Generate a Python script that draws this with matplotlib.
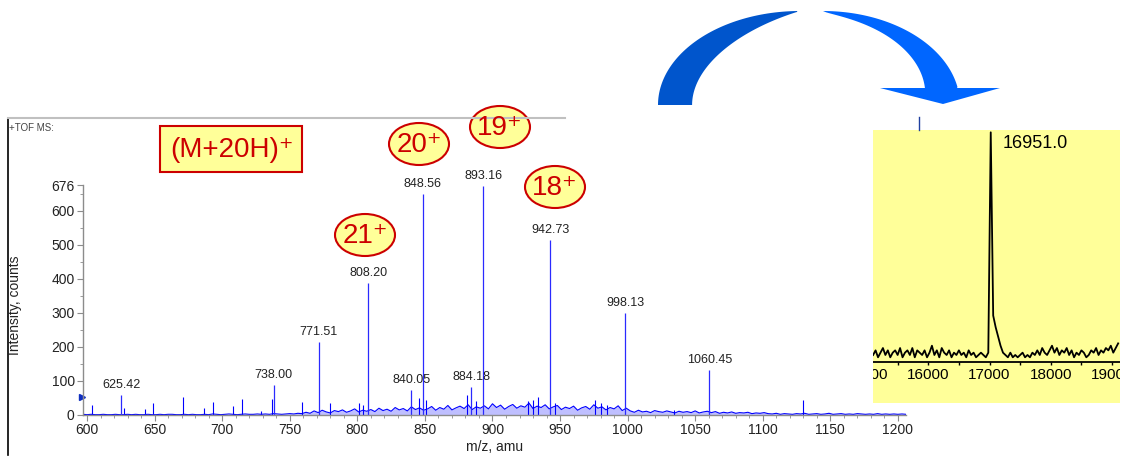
import numpy as np
import matplotlib
matplotlib.use("Agg")
import matplotlib.pyplot as plt
from matplotlib.patches import Ellipse, Rectangle, Polygon
from matplotlib.lines import Line2D
from matplotlib.transforms import Affine2D

plt.rcParams['font.family'] = ['Liberation Sans', 'DejaVu Sans']

# ---- main spectrum (m/z 597..1206) ----
noise_mz = np.arange(597, 1207, 3)
noise = [2, 1, 2, 1, 1, 2, 1, 1, 2, 1, 1, 2, 1, 2, 1, 1, 2, 1, 1, 2,
         1, 2, 2, 1, 1, 2, 1, 2, 1, 1, 2, 1, 3, 2, 1, 2, 3, 2, 1, 2,
         3, 2, 2, 3, 2, 3, 2, 4, 3, 2, 3, 4, 3, 5, 4,
         8, 5, 12, 7, 14, 9, 6, 13, 10, 15, 8, 12, 18, 9, 14, 11, 16, 10, 20, 13,
         17, 11, 22, 15, 19, 12, 24, 16, 21, 14,
         18, 25, 14, 22, 17, 28, 15, 21, 26, 19, 30, 16, 24, 20, 27, 18, 33, 22, 29, 17,
         25, 31, 20, 27, 23, 35, 19, 26, 22, 30, 18, 24, 28, 16, 23, 19, 26, 14, 21, 25,
         17, 30, 20, 24, 15, 22, 18, 27, 13, 20,
         12, 8, 14, 9, 11, 7, 13, 10, 8, 12, 9, 6, 11, 8, 10, 7, 12, 6, 9, 11,
         7, 10, 5, 8, 6, 9, 5, 7, 6, 8, 4, 6, 5, 7,
         4, 3, 5, 2, 4, 3, 2, 4, 3, 5, 2, 3, 4, 2, 3, 5, 2, 3, 4, 2,
         3, 2, 4, 3, 2, 3, 2, 4, 2, 3, 2, 3, 2, 3, 2]

peak_mz = [625.42, 738.00, 771.51, 808.20, 840.05, 848.56, 884.18, 893.16, 942.73, 998.13, 1060.45]
peak_h = [59, 88, 215, 388, 74, 650, 82, 673, 515, 300, 132]
peak_lbl = ["625.42", "738.00", "771.51", "808.20", "840.05", "848.56", "884.18",
            "893.16", "942.73", "998.13", "1060.45"]

minor_mz = [604, 627, 643, 649, 671, 686.5, 693, 708, 714.6, 729, 737, 759, 780, 801, 804,
            846, 851, 881, 888, 926, 930, 934, 946, 976, 980, 985, 1034, 1130]
minor_h = [29, 20, 18, 35, 52, 20, 38, 27, 47, 12, 47, 38, 35, 35, 30,
           50, 45, 60, 40, 40, 45, 53, 35, 44, 35, 30, 15, 44]

yticks = [0, 100, 200, 300, 400, 500, 600, 676]
xticks = [600, 650, 700, 750, 800, 850, 900, 950, 1000, 1050, 1100, 1150, 1200]

# ---- deconvoluted inset ----
ins_mz = np.arange(15100, 19101, 40)
ins_int = [3, 5, 2, 4, 6, 3, 5, 2, 4, 5, 3, 6, 2, 4, 5, 3, 6, 2, 5, 4,
           3, 5, 2, 4, 7, 3, 5, 2, 6, 4, 3, 5, 2, 4, 3, 5, 3, 4, 2, 5,
           3, 4, 2, 3, 4, 3, 2, 4,
           99, 20, 15, 11, 7, 4,
           3, 2, 4, 2, 3, 2, 3, 4, 2, 3, 2, 4, 3, 5, 3, 6, 4, 3, 5, 7,
           4, 6, 3, 5, 4, 6, 3, 5, 2, 4, 3, 5, 4, 2, 3, 5, 4, 6, 3, 5,
           4, 6, 5, 7, 4, 6, 8]
ins_ticks = [15000, 16000, 17000, 18000, 19000]
ins_minor = [15500, 16500, 17500, 18500]

charges = ["21⁺", "20⁺", "19⁺", "18⁺"]

W, H = 1122, 459
fig = plt.figure(figsize=(W / 100, H / 100), dpi=100)
px = Affine2D().scale(1 / W, -1 / H).translate(0, 1) + fig.transFigure

BLUE = '#0000FF'
GREY = '#8c8c8c'
RED = '#CC0000'
YEL = '#FFFF99'

ax = fig.add_axes([83 / W, 1 - 415 / H, (906 - 83) / W, (415 - 185) / H])
ax.fill_between(noise_mz, 0, noise, color=BLUE, alpha=0.25, lw=0)
ax.plot(noise_mz, noise, color=BLUE, lw=0.8)
ax.vlines(minor_mz, 0, minor_h, color=BLUE, lw=0.8)
ax.vlines(peak_mz, 0, peak_h, color='#2a2aff', lw=0.9)
for m, h, s in zip(peak_mz, peak_h, peak_lbl):
    ax.annotate(s, (m, h), xytext=(0, 10), textcoords='offset pixels',
                ha='center', va='center', fontsize=9, color='#222222')
ax.plot(596.4, 53, marker='>', color='#1030c0', ms=4, clip_on=False)

ax.set_xlim(597, 1206)
ax.set_ylim(0, 676)
ax.set_xticks(xticks)
ax.set_xticks(np.arange(600, 1201, 10), minor=True)
ax.set_yticks(yticks)
ax.set_yticks(np.arange(50, 676, 100), minor=True)
ax.tick_params(which='major', length=4, width=0.8, color=GREY, labelsize=10, pad=2,
               labelcolor='#222222')
ax.tick_params(which='minor', length=2, width=0.6, color=GREY)
for sp in ['top', 'right']:
    ax.spines[sp].set_visible(False)
for sp in ['left', 'bottom']:
    ax.spines[sp].set_color(GREY)
    ax.spines[sp].set_linewidth(1.0)
ax.patch.set_alpha(0)

fig.text(15, 305, "Intensity, counts", rotation=90, ha='center', va='center',
         fontsize=10, color='#222222', transform=px)
fig.text(495, 447, "m/z, amu", ha='center', va='center', fontsize=10,
         color='#222222', transform=px)
fig.text(9, 128, "+TOF MS:", ha='left', va='center', fontsize=7,
         color='#444444', transform=px)

# panel frame
fig.add_artist(Line2D([8, 8], [118, 455], color='black', lw=1.2, transform=px))
fig.add_artist(Line2D([8, 565], [118, 118], color='#c0c0c0', lw=1.5, transform=px))

# (M+20H)+ box
fig.add_artist(Rectangle((160, 126), 142, 46, facecolor=YEL, edgecolor=RED,
                         lw=1.5, transform=px))
fig.text(232, 150, "(M+20H)⁺", ha='center', va='center', fontsize=20,
         color=RED, transform=px)

# charge state ellipses
ell_xy = [(365, 235), (419, 144), (500, 127), (555, 187)]
for (cx, cy), s in zip(ell_xy, charges):
    fig.add_artist(Ellipse((cx, cy), 60, 42, facecolor=YEL, edgecolor=RED,
                           lw=1.5, transform=px))
    fig.text(cx, cy + 1, s, ha='center', va='center', fontsize=20,
             color=RED, transform=px)

# curved arrow
t = np.linspace(np.pi, np.pi / 2 + 0.02, 60)
f = (np.pi - t) / (np.pi / 2)
ox, oy = 800 + 142 * np.cos(t), 105 - 94 * np.sin(t)
s = 0.76 + 0.24 * f ** 3
ix, iy = 800 + 142 * s * np.cos(t), 105 - 94 * s * np.sin(t)
left = np.column_stack([np.r_[ox, ix[::-1]], np.r_[oy, iy[::-1]]])
fig.add_artist(Polygon(left, closed=True, facecolor='#0055CC', edgecolor='none',
                       transform=px))

t2 = np.linspace(np.pi / 2, np.arcsin(18 / 94), 60)
g = (np.pi / 2 - t2) / (np.pi / 2 - t2[-1])
ox2, oy2 = 823 + 137 * np.cos(t2), 105 - 94 * np.sin(t2)
s2 = 1 - 0.24 * g ** 0.7
ix2, iy2 = 823 + 137 * s2 * np.cos(t2), 105 - 94 * s2 * np.sin(t2)
right = np.column_stack([np.r_[ox2, 957, 925, ix2[::-1]],
                         np.r_[oy2, 88, 88, iy2[::-1]]])
fig.add_artist(Polygon(right, closed=True, facecolor='#0066FF', edgecolor='none',
                       transform=px))
fig.add_artist(Polygon([(880, 88), (1000, 88), (943, 104)], closed=True,
                       facecolor='#0066FF', edgecolor='none', transform=px))
fig.add_artist(Line2D([919, 919], [117, 130], color='#2040a0', lw=1, transform=px))

# inset
ins = fig.add_axes([873 / W, 1 - 403 / H, 247 / W, 273 / H])
ins.set_facecolor(YEL)
ins.set_xlim(15098, 19130)
ins.set_ylim(-17.7, 100)
ins.plot(ins_mz, ins_int, color='black', lw=1.3)
ins.axhline(0, color='black', lw=1.3)
ins.vlines(ins_ticks + ins_minor, -1.4, 0, color='black', lw=1)
for tk in ins_ticks:
    ins.text(tk, -5.8, str(tk), ha='center', va='center', fontsize=11,
             color='black', clip_on=True)
ins.set_xticks([])
ins.set_yticks([])
for sp in ins.spines.values():
    sp.set_visible(False)
fig.text(1003, 143, "16951.0", ha='left', va='center', fontsize=13,
         color='black', transform=px)

fig.savefig("out.png", dpi=100)
